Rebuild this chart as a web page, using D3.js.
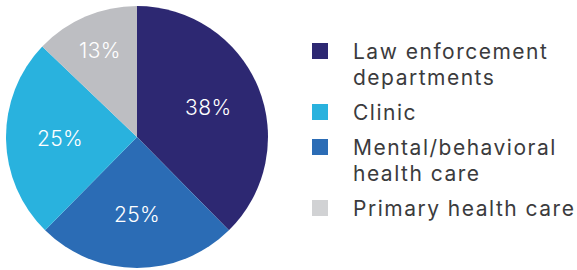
<!DOCTYPE html>
<html><head><meta charset="utf-8">
<script src="https://cdn.jsdelivr.net/npm/d3@7"></script>
<style>
html,body{margin:0;padding:0;background:#fff;}
text{font-family:"Inter","Open Sans",sans-serif;}
</style></head>
<body><svg id="c" width="577" height="270"></svg>
<script>
const categories = ["Law enforcement departments", "Mental/behavioral health care", "Clinic", "Primary health care"];
const values = [38, 25, 25, 13];
const valueLabels = ["38%", "25%", "25%", "13%"];
const legendOrder = ["Law enforcement departments", "Clinic", "Mental/behavioral health care", "Primary health care"];
const legendLines = [["Law enforcement", "departments"], ["Clinic"], ["Mental/behavioral", "health care"], ["Primary health care"]];
const pieColors = ["#2d2872", "#2b6cb5", "#29b2de", "#bdbec2"];
const legendColors = ["#2d2872", "#29b2de", "#2b6cb5", "#d1d2d4"];

const svg = d3.select("#c");
const cx = 137, cy = 137, R = 131;
const g = svg.append("g").attr("transform", `translate(${cx},${cy})`);
const pie = d3.pie().sort(null).value(d => d)(values);
const arc = d3.arc().innerRadius(0).outerRadius(R);
g.selectAll("path").data(pie).join("path")
  .attr("d", arc).attr("fill", (d, i) => pieColors[i]);

g.selectAll("text").data(pie).join("text")
  .attr("transform", d => {
    const lr = (d.endAngle - d.startAngle) < 1 ? 94 : 77;
    const c = d3.arc().innerRadius(lr).outerRadius(lr).centroid(d);
    return `translate(${c[0]},${c[1]})`;
  })
  .attr("text-anchor", "middle").attr("dy", "0.36em")
  .attr("fill", "#fff").attr("font-size", 21).attr("font-weight", 300)
  .attr("letter-spacing", 0.4)
  .text((d, i) => valueLabels[i]);

const lx = 312, tx = 353;
const rowTops = [43, 104, 139, 200];
const lg = svg.append("g");
legendOrder.forEach((name, i) => {
  lg.append("rect").attr("x", lx).attr("y", rowTops[i]).attr("width", 16).attr("height", 16)
    .attr("fill", legendColors[i]);
  const t = lg.append("text").attr("x", tx).attr("y", rowTops[i] + 15.5)
    .attr("font-size", 21).attr("fill", "#3b3b3d").attr("letter-spacing", 1.5);
  legendLines[i].forEach((ln, j) => {
    t.append("tspan").attr("x", tx).attr("dy", j === 0 ? 0 : 26).text(ln);
  });
});
</script></body></html>
